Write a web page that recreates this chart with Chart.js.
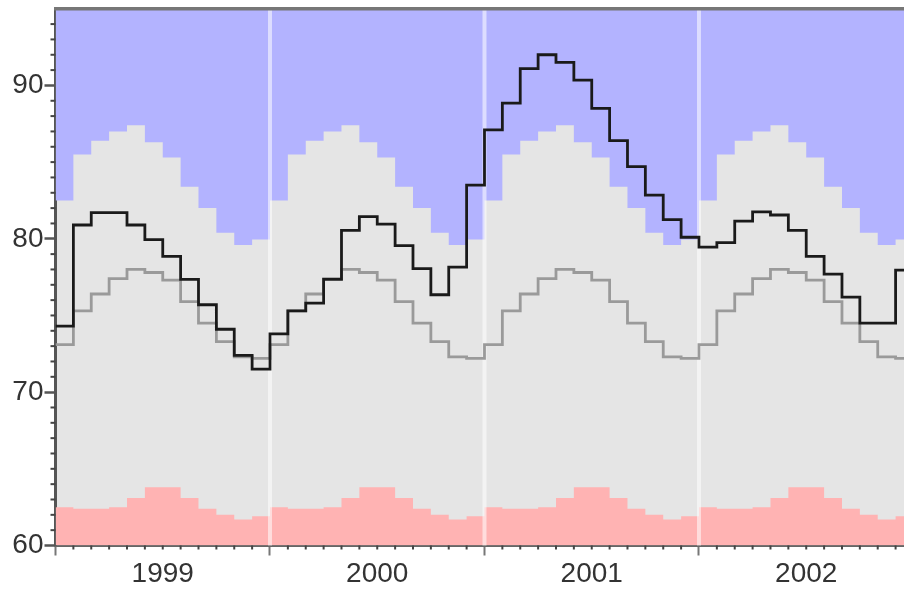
<!DOCTYPE html>
<html>
<head>
<meta charset="utf-8">
<script src="https://cdn.jsdelivr.net/npm/chart.js@4/dist/chart.umd.min.js"></script>
<style>
  html, body { margin: 0; padding: 0; background: #ffffff; }
  #wrap { width: 904px; height: 590px; }
</style>
</head>
<body>
<div id="wrap"><canvas id="c" width="904" height="590"></canvas></div>
<script>
// Monthly series, January 1999 .. December 2002
const yearLabels = ['1999', '2000', '2001', '2002'];

const observed = [
  74.3, 80.9, 81.7, 81.7, 80.9, 79.95, 78.85, 77.35, 75.7, 74.1, 72.4, 71.5,
  73.8, 75.3, 75.8, 77.35, 80.55, 81.45, 80.95, 79.55, 78.05, 76.35, 78.15, 83.5,
  87.1, 88.85, 91.1, 92.0, 91.5, 90.35, 88.5, 86.4, 84.7, 82.85, 81.25, 80.1,
  79.45, 79.75, 81.15, 81.75, 81.55, 80.55, 78.85, 77.7, 76.2, 74.5, 74.5, 77.95
];

const normal = [
  73.1, 75.3, 76.4, 77.4, 78.0, 77.8, 77.3, 75.9, 74.5, 73.3, 72.3, 72.2,
  73.1, 75.3, 76.4, 77.4, 78.0, 77.8, 77.3, 75.9, 74.5, 73.3, 72.3, 72.2,
  73.1, 75.3, 76.4, 77.4, 78.0, 77.8, 77.3, 75.9, 74.5, 73.3, 72.3, 72.2,
  73.1, 75.3, 76.4, 77.4, 78.0, 77.8, 77.3, 75.9, 74.5, 73.3, 72.3, 72.2
];

const upperBand = [
  82.5, 85.5, 86.4, 87.0, 87.4, 86.3, 85.3, 83.4, 82.0, 80.4, 79.6, 79.95,
  82.5, 85.5, 86.4, 87.0, 87.4, 86.3, 85.3, 83.4, 82.0, 80.4, 79.6, 79.95,
  82.5, 85.5, 86.4, 87.0, 87.4, 86.3, 85.3, 83.4, 82.0, 80.4, 79.6, 79.95,
  82.5, 85.5, 86.4, 87.0, 87.4, 86.3, 85.3, 83.4, 82.0, 80.4, 79.6, 79.95
];

const lowerBand = [
  62.5, 62.4, 62.4, 62.5, 63.1, 63.8, 63.8, 63.1, 62.4, 62.0, 61.7, 61.9,
  62.5, 62.4, 62.4, 62.5, 63.1, 63.8, 63.8, 63.1, 62.4, 62.0, 61.7, 61.9,
  62.5, 62.4, 62.4, 62.5, 63.1, 63.8, 63.8, 63.1, 62.4, 62.0, 61.7, 61.9,
  62.5, 62.4, 62.4, 62.5, 63.1, 63.8, 63.8, 63.1, 62.4, 62.0, 61.7, 61.9
];

const yTicks = [60, 70, 80, 90];
const yearStarts = [0, 12, 24, 36];

// Step series: each month holds its value until the start of the next month.
function steps(values) {
  const pts = values.map((v, i) => ({ x: i, y: v }));
  pts.push({ x: values.length, y: values[values.length - 1] });
  return pts;
}

const FONT = { family: "'Liberation Sans', Arial, sans-serif", size: 28 };

// Plot background for the band between the lower and upper limits
const plotBackground = {
  id: 'plotBackground',
  beforeDraw(chart) {
    const { ctx, chartArea: a } = chart;
    ctx.save();
    ctx.fillStyle = '#e5e5e5';
    ctx.fillRect(a.left, a.top, a.right - a.left, a.bottom - a.top);
    ctx.restore();
  }
};

// Year separators drawn over the shaded bands, under the lines
const yearLines = {
  id: 'yearLines',
  afterDatasetDraw(chart, args) {
    if (args.index !== 2) return;
    const { ctx, chartArea: a, scales: { x } } = chart;
    ctx.save();
    ctx.strokeStyle = 'rgba(255,255,255,0.55)';
    ctx.lineWidth = 4;
    yearStarts.slice(1).forEach(m => {
      const px = x.getPixelForValue(m);
      ctx.beginPath();
      ctx.moveTo(px, a.top);
      ctx.lineTo(px, a.bottom);
      ctx.stroke();
    });
    ctx.restore();
  }
};

// Minor ticks (months on x, units on y) and top frame line
const axisExtras = {
  id: 'axisExtras',
  afterDraw(chart) {
    const { ctx, chartArea: a, scales: { x, y } } = chart;
    ctx.save();
    ctx.strokeStyle = '#444';
    ctx.lineWidth = 2;
    for (let m = 1; m < 48; m++) {
      if (m % 12 === 0) continue;
      const px = x.getPixelForValue(m);
      if (px > a.right) break;
      ctx.beginPath();
      ctx.moveTo(px, a.bottom);
      ctx.lineTo(px, a.bottom + 4);
      ctx.stroke();
    }
    for (let v = 61; v < 95; v++) {
      if (v % 10 === 0) continue;
      const py = y.getPixelForValue(v);
      ctx.beginPath();
      ctx.moveTo(a.left - 5, py);
      ctx.lineTo(a.left, py);
      ctx.stroke();
    }
    ctx.strokeStyle = '#777';
    ctx.lineWidth = 3.5;
    ctx.beginPath();
    ctx.moveTo(a.left - 1.5, a.top);
    ctx.lineTo(a.right, a.top);
    ctx.stroke();
    ctx.restore();
  }
};

new Chart(document.getElementById('c'), {
  type: 'line',
  data: {
    datasets: [
      {
        label: 'Observed',
        data: steps(observed),
        stepped: true,
        borderColor: '#1a1a1a',
        borderWidth: 2.8,
        fill: false
      },
      {
        label: 'Normal',
        data: steps(normal),
        stepped: true,
        borderColor: '#9a9a9a',
        borderWidth: 2.8,
        fill: false
      },
      {
        label: 'Upper limit',
        data: steps(upperBand),
        stepped: true,
        borderWidth: 0,
        borderColor: 'rgba(0,0,0,0)',
        backgroundColor: '#b3b3ff',
        fill: 'end'
      },
      {
        label: 'Lower limit',
        data: steps(lowerBand),
        stepped: true,
        borderWidth: 0,
        borderColor: 'rgba(0,0,0,0)',
        backgroundColor: '#ffb3b3',
        fill: 'start'
      }
    ]
  },
  options: {
    responsive: false,
    animation: false,
    devicePixelRatio: 1,
    layout: { padding: { top: 8.75, right: 0, bottom: 0, left: 0 } },
    elements: { point: { radius: 0 }, line: { tension: 0 } },
    plugins: { legend: { display: false }, tooltip: { enabled: false } },
    scales: {
      x: {
        type: 'linear',
        min: 0,
        max: 47.47,
        afterBuildTicks: s => { s.ticks = yearStarts.map(v => ({ value: v })); },
        afterFit: s => { s.height = 44.5; s.paddingLeft = 0; s.paddingRight = 0; },
        ticks: {
          callback: v => yearLabels[Math.round(v / 12)],
          labelOffset: 107.25,
          autoSkip: false,
          maxRotation: 0,
          padding: 2,
          font: FONT,
          color: '#333'
        },
        grid: { drawOnChartArea: false, tickLength: 10, tickColor: '#777', tickWidth: 2 },
        border: { color: '#666', width: 3 }
      },
      y: {
        min: 60,
        max: 95,
        afterBuildTicks: s => { s.ticks = yTicks.map(v => ({ value: v })); },
        afterFit: s => { s.width = 55.5; s.paddingTop = 0; s.paddingBottom = 0; },
        ticks: { padding: 1, font: FONT, color: '#333' },
        grid: { drawOnChartArea: false, tickLength: 11, tickColor: '#555', tickWidth: 2.5 },
        border: { color: '#555', width: 3 }
      }
    }
  },
  plugins: [plotBackground, yearLines, axisExtras]
});
</script>
</body>
</html>
